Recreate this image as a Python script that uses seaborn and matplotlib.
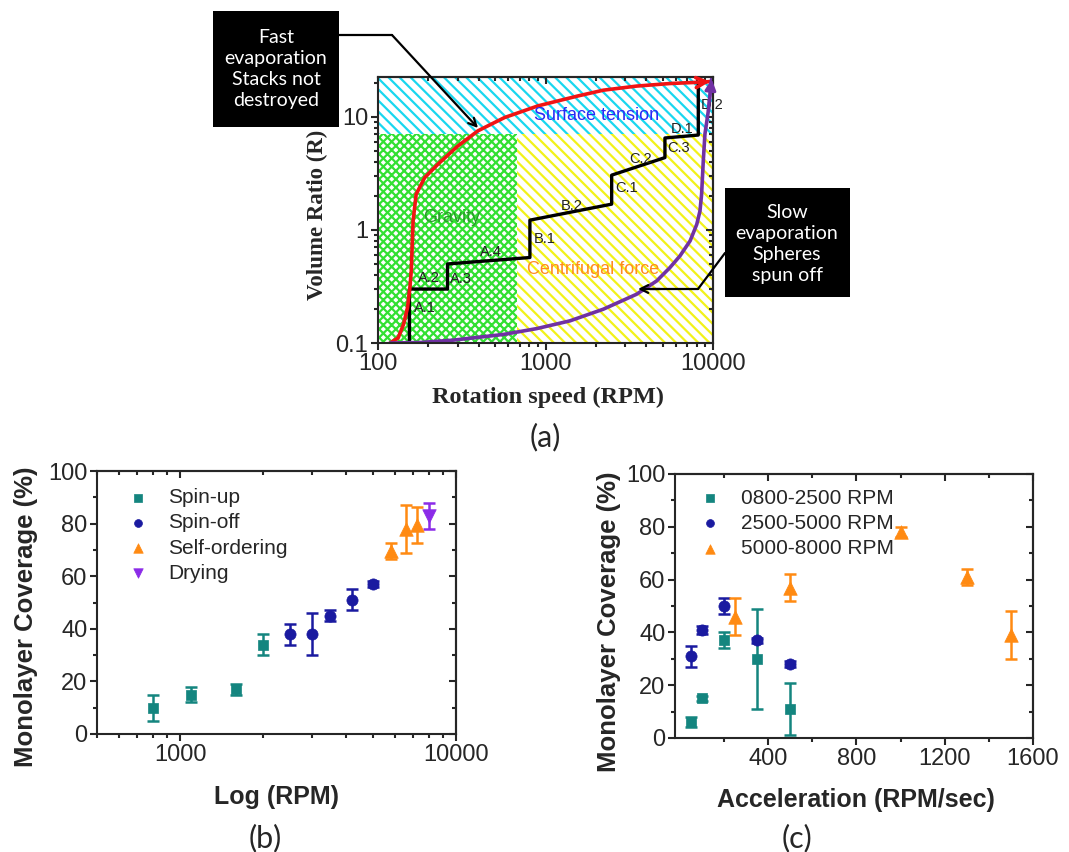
import seaborn as sns
import matplotlib.pyplot as plt
from matplotlib.lines import Line2D
from matplotlib.patches import Rectangle
from matplotlib.ticker import (FixedLocator, MultipleLocator, FuncFormatter,
                               NullFormatter)

W, H = 1069, 852

# ---------------- panel (a): spin-coating regimes (schematic) ----------------
red_rpm = [118, 132, 142, 150, 155, 158, 162, 169, 190, 228, 300, 395, 570,
           902, 1563, 2213, 3500, 5530, 8750, 9590]
red_ratio = [0.1, 0.111, 0.146, 0.205, 0.308, 0.434, 1.2, 2.07, 2.9, 3.81,
             5.53, 7.52, 9.86, 12.5, 15.3, 17.2, 18.7, 19.7, 20.3, 20.5]

purple_rpm = [118, 178, 282, 560, 885, 1400, 2213, 3500, 4610, 5530, 6350,
              7300, 8000, 8360, 8550, 8750, 8950, 9380, 9820]
purple_ratio = [0.1, 0.101, 0.106, 0.119, 0.134, 0.157, 0.199, 0.27, 0.354,
                0.464, 0.589, 0.80, 1.12, 1.47, 2.07, 4.08, 7.03, 11.3, 21.6]

stair_rpm = [154, 154, 260, 260, 807, 807, 2483, 2483, 5164, 5164, 8170, 8170]
stair_ratio = [0.1, 0.3, 0.3, 0.5, 0.57, 1.22, 1.69, 3.05, 4.36, 6.5, 6.9, 19.5]

step_labels = ["A.1", "A.2", "A.3", "A.4", "B.1", "B.2", "C.1", "C.2", "C.3",
               "D.1", "D.2"]
step_label_rpm = [163, 174, 269, 406, 853, 1233, 2623, 3166, 5300, 5590, 8480]
step_label_ratio = [0.205, 0.379, 0.37, 0.643, 0.828, 1.63, 2.37, 4.22, 5.28,
                    7.78, 12.8]

rpm_range = (100, 10000)
ratio_range = (0.1, 22.5)
gravity_limit_rpm = 680
surface_tension_ratio = 7

# ---------------- panel (b): coverage vs rotation speed ----------------
spinup_rpm = [800, 1100, 1600, 2000]
spinup_cov = [10, 15, 17, 34]
spinup_err = [5, 3, 2, 4]

spinoff_rpm = [2500, 3000, 3500, 4200, 5000]
spinoff_cov = [38, 38, 45, 51, 57]
spinoff_err = [4, 8, 2, 4, 1]

selforder_rpm = [5800, 6600, 7200]
selforder_cov = [69.5, 78, 79.5]
selforder_err = [3, 9, 7]

drying_rpm = [8000]
drying_cov = [83]
drying_err = [5]

# ---------------- panel (c): coverage vs acceleration ----------------
accel_low = [50, 100, 200, 350, 500]
cov_low = [6, 15, 37, 30, 11]
err_low = [2, 1, 3, 19, 10]

accel_mid = [50, 100, 200, 350, 500]
cov_mid = [31, 41, 50, 37, 28]
err_mid = [4, 1.5, 3, 1, 1]

accel_high = [250, 500, 1000, 1300, 1500]
cov_high = [46, 57, 78, 61, 39]
err_high = [7, 5, 2, 3, 9]

TEAL = "#14857f"
NAVY = "#1a1aa0"
ORANGE = "#ff8a12"
VIOLET = "#8b2be8"

sns.set_style("ticks")
plt.rcParams["font.family"] = ["Liberation Sans", "DejaVu Sans"]
plt.rcParams["hatch.linewidth"] = 1.6
plt.rcParams["axes.linewidth"] = 1.5


def fig_pt(x, y):
    return x / W, 1 - y / H


def axes_rect(left, top, right, bottom):
    return [left / W, 1 - bottom / H, (right - left) / W, (bottom - top) / H]


def style_ticks(ax, size=17):
    ax.tick_params(which="both", direction="out", width=1.5, labelsize=size,
                   pad=2, top=False, right=False)
    ax.tick_params(which="major", length=5)
    ax.tick_params(which="minor", length=3)


def mirror_ticks(ax, xmaj=None, xmin=None, ymaj=None, ymin=None):
    top = ax.secondary_xaxis("top")
    right = ax.secondary_yaxis("right")
    if xmaj is not None:
        top.xaxis.set_major_locator(xmaj)
    if xmin is not None:
        top.xaxis.set_minor_locator(xmin)
    if ymaj is not None:
        right.yaxis.set_major_locator(ymaj)
    if ymin is not None:
        right.yaxis.set_minor_locator(ymin)
    top.tick_params(axis="x", which="both", direction="in", width=1.5,
                    labeltop=False, labelbottom=False)
    right.tick_params(axis="y", which="both", direction="in", width=1.5,
                      labelright=False, labelleft=False)
    top.tick_params(which="major", length=5)
    top.tick_params(which="minor", length=3)
    right.tick_params(which="major", length=5)
    right.tick_params(which="minor", length=3)
    top.spines["top"].set_linewidth(1.5)
    right.spines["right"].set_linewidth(1.5)


fig = plt.figure(figsize=(W / 100, H / 100), dpi=100)

# =========================== panel (a) ===========================
ax_a = fig.add_axes(axes_rect(378, 77, 713, 343))
ax_a.set_xscale("log")
ax_a.set_yscale("log")
ax_a.set_xlim(*rpm_range)
ax_a.set_ylim(*ratio_range)

ax_a.fill_between(rpm_range, surface_tension_ratio, ratio_range[1],
                  facecolor="white", edgecolor="#19d7ef", hatch="\\\\\\",
                  linewidth=0, zorder=0)
ax_a.fill_between([rpm_range[0], gravity_limit_rpm], ratio_range[0],
                  surface_tension_ratio, facecolor="white",
                  edgecolor="#33e033", hatch="xxxx", linewidth=0, zorder=0)
ax_a.fill_between([gravity_limit_rpm, rpm_range[1]], ratio_range[0],
                  surface_tension_ratio, facecolor="white",
                  edgecolor="#f2f21a", hatch="\\\\\\", linewidth=0, zorder=0)

ax_a.text(2024, 10.2, "Surface tension", color="#2a2af5", fontsize=13,
          ha="center", va="center")
ax_a.text(275, 1.3, "Gravity", color="#2a9a2a", fontsize=13,
          ha="center", va="center")
ax_a.text(1932, 0.449, "Centrifugal force", color="#ff8a1e", fontsize=13,
          ha="center", va="center")

sns.lineplot(x=stair_rpm, y=stair_ratio, ax=ax_a, color="black",
             linewidth=2.4, sort=False, estimator=None)
for lab, xv, yv in zip(step_labels, step_label_rpm, step_label_ratio):
    ax_a.text(xv, yv, lab, fontsize=10.5, color="#222222", ha="left",
              va="center")

sns.lineplot(x=red_rpm, y=red_ratio, ax=ax_a, color="#f01414",
             linewidth=2.6, sort=False, estimator=None)
ax_a.annotate("", xy=(red_rpm[-1], red_ratio[-1]),
              xytext=(red_rpm[-2], red_ratio[-2]),
              arrowprops=dict(arrowstyle="->", color="#f01414", lw=2.6,
                              mutation_scale=18, shrinkA=0, shrinkB=0))
sns.lineplot(x=purple_rpm, y=purple_ratio, ax=ax_a, color="#7031a3",
             linewidth=2.6, sort=False, estimator=None)
ax_a.annotate("", xy=(purple_rpm[-1], purple_ratio[-1]),
              xytext=(purple_rpm[-2], purple_ratio[-2]),
              arrowprops=dict(arrowstyle="-|>", color="#7031a3", lw=2.2,
                              mutation_scale=16, shrinkA=0, shrinkB=0))

style_ticks(ax_a, 17)
fmt_g = FuncFormatter(lambda v, _: f"{v:g}")
ax_a.xaxis.set_major_formatter(fmt_g)
ax_a.yaxis.set_major_formatter(fmt_g)
ax_a.xaxis.set_minor_formatter(NullFormatter())
ax_a.yaxis.set_minor_formatter(NullFormatter())
mirror_ticks(ax_a)
ax_a.set_xlabel("")
ax_a.set_ylabel("")
fig.text(*fig_pt(548, 397), "Rotation speed (RPM)", family="Liberation Serif",
         fontweight="bold", fontsize=17.5, ha="center", va="center")
fig.text(*fig_pt(317, 215), "Volume Ratio (R)", family="Liberation Serif",
         fontweight="bold", fontsize=16.5, ha="center", va="center",
         rotation=90)

# annotation boxes
fig.add_artist(Rectangle(fig_pt(213, 127), 126 / W, 116 / H,
                         transform=fig.transFigure, facecolor="black",
                         edgecolor="none"))
fig.text(*fig_pt(276, 69), "Fast\nevaporation\nStacks not\ndestroyed",
         color="white", family="Lato", fontsize=14, ha="center", va="center",
         linespacing=1.3)
fig.add_artist(Rectangle(fig_pt(725, 297), 125 / W, 109 / H,
                         transform=fig.transFigure, facecolor="black",
                         edgecolor="none"))
fig.text(*fig_pt(787, 244), "Slow\nevaporation\nSpheres\nspun off",
         color="white", family="Lato", fontsize=14, ha="center", va="center",
         linespacing=1.3)

fig.add_artist(Line2D(*zip(fig_pt(339, 35), fig_pt(392, 35)),
                      transform=fig.transFigure, color="black", lw=1.6))
fig.add_artist(Line2D(*zip(fig_pt(725, 253), fig_pt(698, 289)),
                      transform=fig.transFigure, color="black", lw=1.6))
fig.add_artist(Line2D(*zip(fig_pt(698, 289), fig_pt(650, 289)),
                      transform=fig.transFigure, color="black", lw=1.6))
ax_a.annotate("", xy=fig_pt(478, 128), xycoords="figure fraction",
              xytext=fig_pt(392, 35), textcoords="figure fraction",
              arrowprops=dict(arrowstyle="->", color="black", lw=1.6,
                              shrinkA=0, shrinkB=0, mutation_scale=14))
ax_a.annotate("", xy=fig_pt(638, 289), xycoords="figure fraction",
              xytext=fig_pt(660, 289), textcoords="figure fraction",
              arrowprops=dict(arrowstyle="->", color="black", lw=1.6,
                              shrinkA=0, shrinkB=0, mutation_scale=14))

fig.text(*fig_pt(545, 437), "(a)", family="Lato", fontsize=22,
         ha="center", va="center")

# =========================== panel (b) ===========================
ax_b = fig.add_axes(axes_rect(97, 471, 456, 734))
ax_b.set_xscale("log")

groups_b = [
    ("Spin-up", spinup_rpm, spinup_cov, spinup_err, TEAL, "s", 55),
    ("Spin-off", spinoff_rpm, spinoff_cov, spinoff_err, NAVY, "o", 65),
    ("Self-ordering", selforder_rpm, selforder_cov, selforder_err, ORANGE,
     "^", 95),
    ("Drying", drying_rpm, drying_cov, drying_err, VIOLET, "v", 95),
]
for name, xs, ys, es, col, mk, sz in groups_b:
    ax_b.errorbar(xs, ys, yerr=es, fmt="none", ecolor=col, elinewidth=1.8,
                  capsize=4.5, capthick=1.8, zorder=2)
    sns.scatterplot(x=xs, y=ys, ax=ax_b, color=col, marker=mk, s=sz,
                    edgecolor=col, linewidth=0.5, label=name, zorder=3)

ax_b.set_xlim(500, 10000)
ax_b.set_ylim(0, 100)
ax_b.yaxis.set_major_locator(MultipleLocator(20))
ax_b.yaxis.set_minor_locator(MultipleLocator(10))
ax_b.xaxis.set_major_formatter(FuncFormatter(lambda v, _: f"{v:.0f}"))
ax_b.xaxis.set_minor_formatter(NullFormatter())
style_ticks(ax_b, 17)
mirror_ticks(ax_b, ymaj=MultipleLocator(20), ymin=MultipleLocator(10))
ax_b.set_xlabel("Log (RPM)", fontsize=18, fontweight="bold")
ax_b.set_ylabel("Monolayer Coverage (%)", fontsize=18.5, fontweight="bold",
                ha="center", va="center", rotation_mode="default")
ax_b.xaxis.set_label_coords((277 - 97) / 359, -(797 - 734) / 263)
ax_b.yaxis.set_label_coords(-(97 - 26) / 359, 1 - (617 - 471) / 263)
ax_b.xaxis.label.set_va("center")
ax_b.legend(loc="upper left", bbox_to_anchor=(0.085, 0.935), frameon=False,
            fontsize=15, handlelength=1.0, handletextpad=0.95,
            labelspacing=0.3, borderpad=0, borderaxespad=0, markerscale=0.7)

fig.text(*fig_pt(265, 838), "(b)", family="Lato", fontsize=22,
         ha="center", va="center")

# =========================== panel (c) ===========================
ax_c = fig.add_axes(axes_rect(675, 474, 1033, 738))

groups_c = [
    ("0800-2500 RPM", accel_low, cov_low, err_low, TEAL, "s", 55),
    ("2500-5000 RPM", accel_mid, cov_mid, err_mid, NAVY, "o", 65),
    ("5000-8000 RPM", accel_high, cov_high, err_high, ORANGE, "^", 95),
]
for name, xs, ys, es, col, mk, sz in groups_c:
    ax_c.errorbar(xs, ys, yerr=es, fmt="none", ecolor=col, elinewidth=1.8,
                  capsize=4.5, capthick=1.8, zorder=2)
    sns.scatterplot(x=xs, y=ys, ax=ax_c, color=col, marker=mk, s=sz,
                    edgecolor=col, linewidth=0.5, label=name, zorder=3)

ax_c.set_xlim(-22, 1600)
ax_c.set_ylim(0, 100)
ax_c.xaxis.set_major_locator(FixedLocator([400, 800, 1200, 1600]))
ax_c.xaxis.set_minor_locator(FixedLocator([200, 600, 1000, 1400]))
ax_c.yaxis.set_major_locator(MultipleLocator(20))
ax_c.yaxis.set_minor_locator(MultipleLocator(10))
style_ticks(ax_c, 17)
mirror_ticks(ax_c, xmaj=FixedLocator([400, 800, 1200, 1600]),
             xmin=FixedLocator([200, 600, 1000, 1400]),
             ymaj=MultipleLocator(20), ymin=MultipleLocator(10))
ax_c.set_xlabel("Acceleration (RPM/sec)", fontsize=18, fontweight="bold")
ax_c.set_ylabel("Monolayer Coverage (%)", fontsize=18.5, fontweight="bold",
                ha="center", va="center", rotation_mode="default")
ax_c.xaxis.set_label_coords((856 - 675) / 358, -(800 - 738) / 264)
ax_c.yaxis.set_label_coords(-(675 - 609) / 358, 1 - (622 - 474) / 264)
ax_c.xaxis.label.set_va("center")
ax_c.legend(loc="upper left", bbox_to_anchor=(0.07, 0.945), frameon=False,
            fontsize=15, handlelength=1.0, handletextpad=0.95,
            labelspacing=0.3, borderpad=0, borderaxespad=0, markerscale=0.7)

fig.text(*fig_pt(797, 838), "(c)", family="Lato", fontsize=22,
         ha="center", va="center")

fig.savefig("out.png", dpi=100)
